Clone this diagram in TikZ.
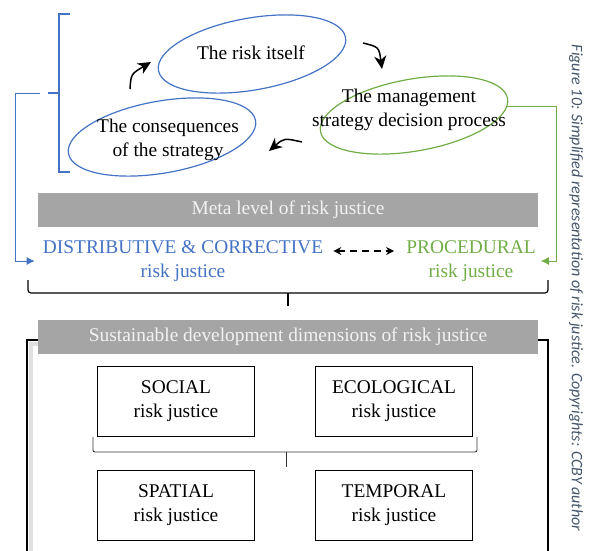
\documentclass[tikz,border=0pt]{standalone}
\usepackage{fontspec}
\setmainfont{Liberation Serif}
\newfontfamily\capfont{Carlito}
\usepackage{tikz}
\usetikzlibrary{arrows.meta,shapes.geometric}

\definecolor{riskblue}{HTML}{4472C4}
\definecolor{riskgreen}{HTML}{70AD47}
\definecolor{bargray}{HTML}{A5A5A5}
\definecolor{bartext}{HTML}{F2F2F2}
\definecolor{capblue}{HTML}{44546A}

\tikzset{
    cycleell/.style={ellipse, draw, line width=1.2pt, inner sep=0pt,
        minimum width=190pt, minimum height=72pt, rotate=10},
    cyclearrow/.style={line width=1.5pt, -{Stealth[length=13pt,width=12pt,inset=4pt]}},
    headbar/.style={fill=bargray, text=bartext, inner sep=0pt,
        minimum width=500pt, minimum height=34pt},
    dimbox/.style={draw, line width=0.8pt, inner sep=0pt, align=center,
        minimum width=157pt, minimum height=70pt},
    leveltext/.style={align=center, inner sep=0pt},
}

\begin{document}
\begin{tikzpicture}[x=1pt, y=-1pt, font=\fontsize{19.4}{24}\selectfont]
    \useasboundingbox (0,0) rectangle (589,550);

    % the cycle of the risk
    \node [cycleell, draw=riskblue]  (risk) at (252,54)  {};
    \node [cycleell, draw=riskblue]  (cons) at (162,137) {};
    \node [cycleell, draw=riskgreen] (mgmt) at (414,115) {};

    \node [leveltext] (risktxt) at (251,53)    {The risk itself};
    \node [leveltext] (constxt) at (168,139.5) {The consequences\\of the strategy};
    \node [leveltext] (mgmttxt) at (409,110)   {The management\\strategy decision process};

    \coordinate (a1s) at (130,89);  \coordinate (a1e) at (151,62);
    \coordinate (a2s) at (363,43);  \coordinate (a2e) at (382,69);
    \coordinate (a3s) at (302,142); \coordinate (a3e) at (269,151);
    \draw [cyclearrow] (a1s) .. controls (131,74) .. (a1e);
    \draw [cyclearrow] (a2s) .. controls (379,47) .. (a2e);
    \draw [cyclearrow] (a3s) .. controls (284,138) .. (a3e);

    % bracket round the cycle
    \draw [riskblue, line width=1.2pt] (70,14) -- (59,14) -- (59,172) -- (70,172);
    \draw [riskblue, line width=1.2pt] (59,93) -- (48,93);

    % meta level
    \node [headbar] (meta) at (288,210) {Meta level of risk justice};

    \node [leveltext, text=riskblue]  (dist) at (183,261) {DISTRIBUTIVE \& CORRECTIVE\\risk justice};
    \node [leveltext, text=riskgreen] (proc) at (471,261) {PROCEDURAL\\risk justice};

    \coordinate (brail) at (15,0);
    \coordinate (bstart) at (40,93);
    \coordinate (grail) at (556,0);
    \draw [riskblue, line width=1pt, -{Latex[length=8pt,width=8pt]}]
        (bstart) -- (bstart -| brail) |- ([xshift=-8pt]dist.west);
    \draw [riskgreen, line width=1pt, -{Latex[length=8pt,width=8pt]}]
        (mgmt.-5) -- (mgmt.-5 -| grail) |- ([xshift=5pt]proc.east);
    \draw [line width=1.5pt, dashed, dash pattern=on 7pt off 5pt,
        {Stealth[length=8pt,width=8pt]}-{Stealth[length=8pt,width=8pt]}]
        ([xshift=10pt,yshift=10pt]dist.east) -- ([xshift=-12pt,yshift=10pt]proc.west);

    \draw [line width=1.2pt, rounded corners=3pt] (28,280) -- (28,293) -- (548,293) -- (548,280);
    \draw [line width=1.2pt] (288,293) -- (288,306);

    % sustainable development dimensions, with a soft shadow on the frame
    \draw [black!12, line width=4pt] (38,344) -- (31,344) -- (31,552);
    \draw [line width=2.5pt] (38,340) -- (27,340) -- (27,552);
    \draw [line width=2.5pt] (538,340) -- (548,340) -- (548,552);
    \node [headbar] (sust) at (288,337) {Sustainable development dimensions of risk justice};

    \node [dimbox] (social)   at (176,401) {SOCIAL\\risk justice};
    \node [dimbox] (ecol)     at (394,401) {ECOLOGICAL\\risk justice};
    \node [dimbox] (spatial)  at (176,505) {SPATIAL\\risk justice};
    \node [dimbox] (temporal) at (394,505) {TEMPORAL\\risk justice};

    \draw [black!80, line width=0.9pt, rounded corners=2pt] (93,437) -- (93,452) -- (477,452) -- (477,437);
    \draw [black!80, line width=0.9pt] (286,452) -- (286,467);

    \node [rotate=-90, text=capblue, font=\capfont\itshape\fontsize{16}{18}\selectfont]
        (caption) at (576,288) {Figure 10: Simplified representation of risk justice. Copyrights: CCBY author};
\end{tikzpicture}
\end{document}
